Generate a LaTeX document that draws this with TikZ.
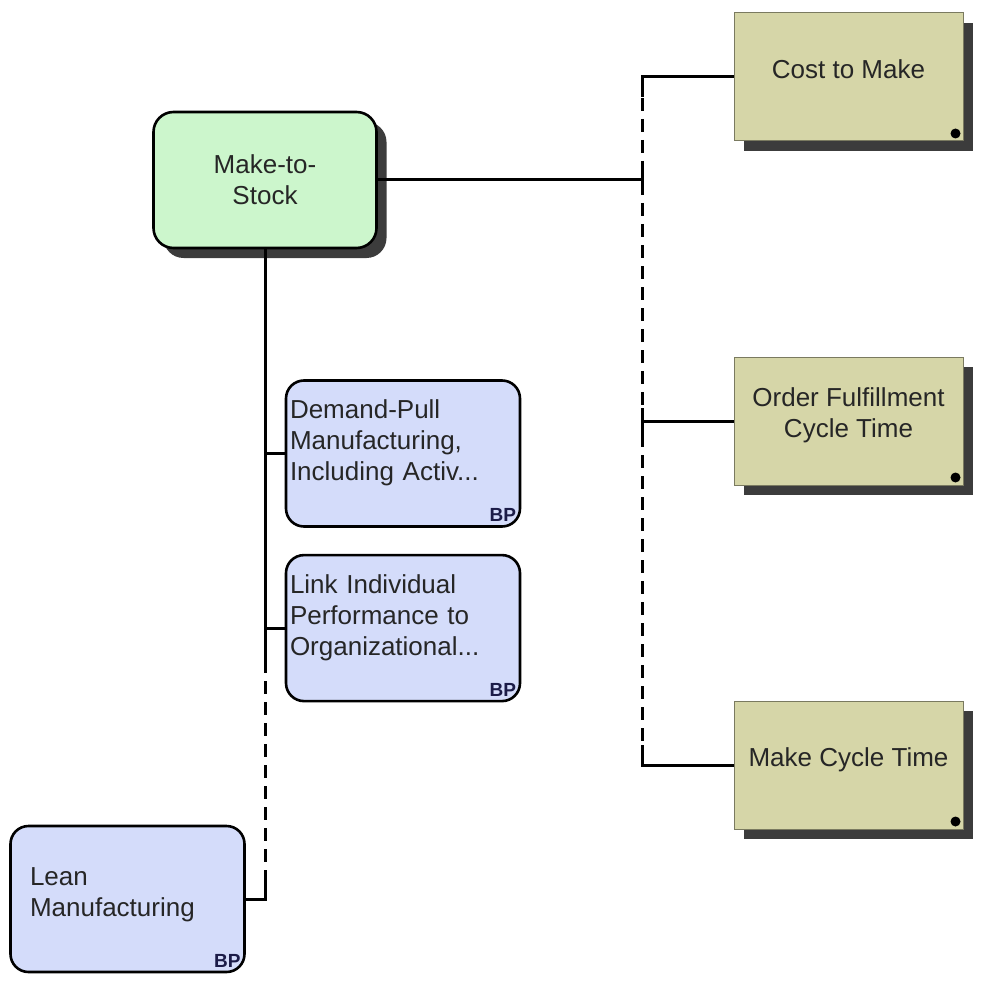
\documentclass[tikz,border=0pt]{standalone}
\usepackage{fontspec}
\setmainfont{Liberation Sans}
\usetikzlibrary{chains,positioning,shadows}
\definecolor{stockfill}{HTML}{CCF6CC}
\definecolor{practicefill}{HTML}{D4DCFA}
\definecolor{goalfill}{HTML}{D6D6A8}
\definecolor{goalborder}{HTML}{7A7A60}
\definecolor{shadowgray}{HTML}{3C3C3C}
\definecolor{bpnavy}{HTML}{1C1C48}

\begin{document}
\begin{tikzpicture}[x=1pt,y=-1pt]
\tikzstyle{every path}=[line width=2.6pt]
\edef\widthgoal{229pt}
\edef\heightgoal{128pt}
\tikzstyle{boxtext}=[font=\fontsize{26}{31}\selectfont,text=black!85,align=center]
\tikzstyle{boxshadow}=[drop shadow={shadow xshift=10pt,shadow yshift=-10pt,fill=shadowgray,opacity=1}]
\tikzstyle{goal}=[boxtext,draw=goalborder,line width=1pt,fill=goalfill,
 minimum width=\widthgoal,minimum height=\heightgoal,text depth=16pt,boxshadow]
\tikzstyle{process}=[boxtext,draw,fill=stockfill,rounded corners=20pt,
 minimum width=223pt,minimum height=136pt,boxshadow]
\tikzstyle{bptag}=[anchor=south east,font=\bfseries\fontsize{19}{19}\selectfont,
 text=bpnavy,inner xsep=4pt,inner ysep=5pt]
\tikzstyle{practice}=[boxtext,align=left,text width=226pt,draw,fill=practicefill,
 rounded corners=18pt,minimum width=234pt,minimum height=146pt,text depth=88pt,
 label={[bptag]south east:BP}]
\tikzstyle{bus}=[line width=3pt]
\tikzstyle{dashedbus}=[bus,dash pattern=on 13pt off 8pt]
\useasboundingbox (0,0) rectangle (981,984);

\node [process] at (265,180) (stock) {Make-to-\\Stock};

\begin{scope}[start chain=goals going below,node distance=215pt]
 \node [on chain=goals,goal] at (848.5,77) (cost) {Cost to Make};
 \node [on chain=goals,goal] (order) {Order Fulfillment\\Cycle Time};
 \node [on chain=goals,goal] (make) {Make Cycle Time};
\end{scope}
\foreach \g in {cost,order,make}
 \fill (\g.south east) ++(-8,-8) circle (5pt);

\begin{scope}[start chain=practices going below,node distance=26pt]
 \node [on chain=practices,practice] at (403,453.5) (demand)
  {Demand-Pull\\Manufacturing,\\Including Activ...};
 \node [on chain=practices,practice] (link)
  {Link Individual\\Performance to\\Organizational...};
\end{scope}
\node [practice,text width=195pt,text depth=45pt] at (127.5,899) (lean) {Lean\\Manufacturing};

% right bus
\coordinate (rbus) at (642,0);
\coordinate (rtop) at (cost.west -| rbus);
\coordinate (rbot) at (make.west -| rbus);
\draw [dashedbus] (rtop) -- (rbot);
\draw [bus] (cost.west) -- (rtop) -- ++(0,20);
\draw [bus] (make.west) -- (rbot) -- ++(0,-20);
\draw [bus] (stock.east) -- (stock.east -| rbus) ++(0,-13) -- ++(0,26);
\draw [bus] (order.west) -- (order.west -| rbus) ++(0,-13) -- ++(0,26);

% left bus
\coordinate (lsplit) at (265,660);
\coordinate (lbot) at (lean.east -| stock.south);
\draw [bus] (stock.south) -- (lsplit);
\draw [dashedbus] (lsplit) -- (lbot);
\draw [bus] (lean.east) -- (lbot) -- ++(0,-20);
\draw [bus] (demand.west) -- (demand.west -| stock.south);
\draw [bus] (link.west) -- (link.west -| stock.south);
\end{tikzpicture}
\end{document}
